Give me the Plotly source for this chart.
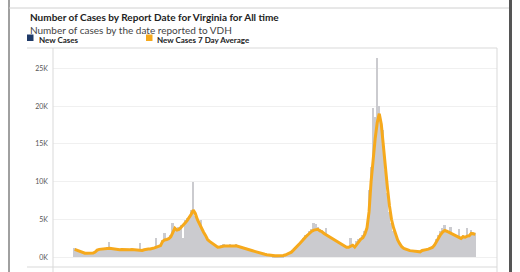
import pandas as pd
import plotly.graph_objects as go

# ---- data (one value every 4 days) ----
start_date = "2020-05-30"
step_days = 4

new_cases = [
    1200, 900, 800, 700, 650, 550, 500, 600, 550, 650,
    800, 1000, 1100, 1200, 1250, 1100, 1300, 2050, 1200, 1100,
    1000, 950, 1100, 1050, 950, 1100, 1000, 1050, 1150, 950,
    1000, 900, 1850, 950, 1100, 1050, 1150, 1100, 1200, 1300,
    2500, 1450, 1600, 2300, 3250, 2400, 2500, 2900, 4500, 4000,
    3500, 4000, 4300, 2500, 4900, 5200, 5400, 6200, 10000, 5500,
    5000, 4700, 4900, 3500, 3000, 2400, 2200, 2000, 1800, 1550,
    1400, 1450, 1600, 1750, 1500, 1650, 1700, 1550, 1600, 1750,
    1500, 1450, 1300, 1200, 1100, 1050, 1000, 900, 800, 700,
    650, 580, 500, 420, 380, 330, 280, 240, 220, 210,
    220, 230, 260, 320, 430, 520, 750, 1000, 1300, 1600,
    1950, 2200, 2600, 2900, 3100, 3500, 3800, 4500, 4400, 4000,
    3700, 3600, 3300, 3870, 2900, 2800, 2500, 2400, 2200, 2000,
    1800, 1600, 1450, 1400, 1350, 2600, 1700, 1400, 2200, 2400,
    2600, 2900, 3500, 4500, 8900, 12000, 19700, 18500, 26300, 20000,
    18000, 16800, 11500, 8500, 6000, 4500, 3500, 2700, 2100, 1700,
    1300, 1150, 1000, 950, 900, 850, 780, 750, 700, 800,
    1000, 1100, 1050, 1150, 1250, 1450, 1800, 2400, 3000, 3500,
    3900, 4300, 3600, 3500, 4050, 3200, 3000, 2800, 3700, 2600,
    3000, 2800, 3900, 3000, 3600, 3300, 3200,
]

avg_7day = [
    1060, 950, 820, 720, 600, 540, 520, 520, 530, 560,
    700, 950, 1050, 1100, 1140, 1150, 1160, 1180, 1150, 1100,
    1020, 980, 1000, 1020, 1000, 1010, 1030, 1000, 1040, 1000,
    980, 930, 870, 900, 1000, 1080, 1100, 1090, 1120, 1250,
    1350, 1420, 1550, 2100, 2300, 2350, 2450, 2700, 3400, 3850,
    3600, 3700, 3950, 4200, 4550, 4850, 5200, 5700, 6250, 5800,
    5000, 4400, 3900, 3350, 2900, 2350, 2100, 1900, 1700, 1500,
    1330, 1350, 1450, 1500, 1480, 1460, 1500, 1470, 1500, 1520,
    1450, 1380, 1250, 1150, 1080, 1020, 950, 860, 780, 690,
    610, 540, 460, 400, 350, 300, 260, 220, 210, 200,
    200, 210, 240, 300, 400, 500, 680, 950, 1200, 1500,
    1800, 2100, 2450, 2700, 2950, 3250, 3450, 3600, 3680, 3700,
    3500, 3380, 3150, 2980, 2800, 2650, 2450, 2300, 2150, 1950,
    1750, 1550, 1380, 1320, 1320, 1450, 1600, 1350, 1700, 2150,
    2400, 2600, 3100, 3900, 6000, 10000, 13200, 15700, 17800, 19000,
    17600, 14500, 11800, 9200, 6800, 5000, 3900, 3000, 2300, 1800,
    1400, 1180, 1050, 950, 880, 850, 800, 740, 680, 720,
    900, 1000, 1020, 1080, 1150, 1300, 1600, 2100, 2650, 3000,
    3350, 3550, 3450, 3300, 3250, 3000, 2850, 2700, 2550, 2500,
    2720, 2650, 2800, 2850, 3150, 3050, 3050,
]

y_tick_values = [0, 5000, 10000, 15000, 20000, 25000]
y_tick_labels = ["0K", "5K", "10K", "15K", "20K", "25K"]

title_text = "Number of Cases by Report Date for Virginia for All time"
subtitle_text = "Number of cases by the date reported to VDH"
legend_names = ["New Cases", "New Cases 7 Day Average"]

# ---- figure ----
dates = pd.date_range(start_date, periods=len(new_cases), freq=f"{step_days}D")

W, H = 520, 272
L, R, T, B = 53, 23, 48, 5
pw, ph = W - L - R, H - T - B


def px(x):
    return (x - L) / pw


def py(y):
    return (H - B - y) / ph


fig = go.Figure()
fig.add_trace(go.Bar(
    x=dates, y=new_cases, name=legend_names[0],
    marker=dict(color="#cbcbcf", line=dict(width=0)),
    width=step_days * 86400000 * 0.95, showlegend=False,
))
fig.add_trace(go.Scatter(
    x=dates, y=avg_7day, name=legend_names[1], mode="lines",
    line=dict(color="#f6a91c", width=3, shape="linear"), showlegend=False,
))

d0 = pd.Timestamp(start_date)
days_per_px = step_days / 2.044
x_start = d0 - pd.Timedelta(days=(74.7 - L) * days_per_px)
x_end = d0 + pd.Timedelta(days=(L + pw - 74.7) * days_per_px)

fig.update_layout(
    width=W, height=H,
    margin=dict(l=L, r=R, t=T, b=B, pad=0),
    paper_bgcolor="white", plot_bgcolor="white",
    font=dict(family="Lato, Open Sans, sans-serif", color="#333"),
    bargap=0,
    xaxis=dict(range=[x_start, x_end], showticklabels=False, showgrid=False,
               zeroline=False, showline=False, ticks=""),
    yaxis=dict(range=[-1283, 27685], tickvals=y_tick_values, ticktext=y_tick_labels,
               tickfont=dict(size=7, color="#555"), showgrid=True,
               gridcolor="#f0f0f0", gridwidth=1, zeroline=False, showline=False,
               ticks="", ticklabelstandoff=4),
    showlegend=False,
)

shapes = [
    # outer frame
    dict(type="line", x0=px(9), x1=px(9), y0=py(0), y1=py(272), line=dict(color="#a0a0a0", width=2)),
    dict(type="line", x0=px(9), x1=px(510), y0=py(8), y1=py(8), line=dict(color="#d0d0d0", width=1)),
    dict(type="line", x0=px(510.5), x1=px(510.5), y0=py(0), y1=py(272), line=dict(color="#555555", width=3)),
    # inner frame
    dict(type="line", x0=px(27), x1=px(497), y0=py(48), y1=py(48), line=dict(color="#d9d9d9", width=1)),
    dict(type="line", x0=px(27), x1=px(497), y0=py(267), y1=py(267), line=dict(color="#d9d9d9", width=1)),
    dict(type="line", x0=px(53), x1=px(53), y0=py(48), y1=py(272), line=dict(color="#d9d9d9", width=1)),
    dict(type="line", x0=px(497), x1=px(497), y0=py(48), y1=py(272), line=dict(color="#d9d9d9", width=1)),
    # legend swatches
    dict(type="rect", x0=px(27), x1=px(33.5), y0=py(41), y1=py(34.5), line=dict(width=0), fillcolor="#1f3a68"),
    dict(type="rect", x0=px(146), x1=px(152.5), y0=py(41), y1=py(34.5), line=dict(width=0), fillcolor="#f6a91c"),
]
for s in shapes:
    s.update(xref="paper", yref="paper", layer="above")
fig.update_layout(shapes=shapes)

ann = [
    dict(text=f"<b>{title_text}</b>", x=px(28), y=py(17), font=dict(size=10, color="#222")),
    dict(text=subtitle_text, x=px(28), y=py(30.5), font=dict(size=10, color="#444")),
    dict(text=f"<b>{legend_names[0]}</b>", x=px(37), y=py(40), font=dict(size=8, color="#222")),
    dict(text=f"<b>{legend_names[1]}</b>", x=px(155), y=py(40), font=dict(size=8, color="#222")),
]
for a in ann:
    a.update(xref="paper", yref="paper", xanchor="left", yanchor="middle", showarrow=False)
fig.update_layout(annotations=ann)

fig.write_html("out.html")
